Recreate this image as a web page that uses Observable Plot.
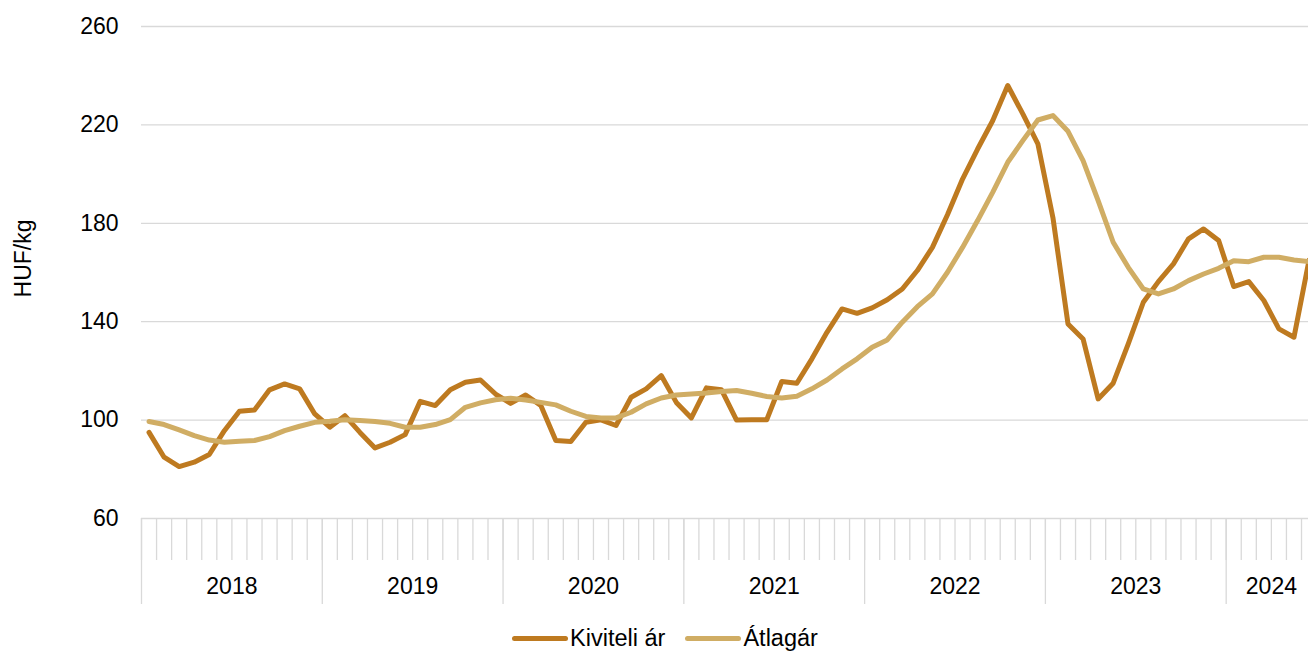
<!DOCTYPE html>
<html>
<head>
<meta charset="utf-8">
<script src="https://cdn.jsdelivr.net/npm/d3@7"></script>
<script src="https://cdn.jsdelivr.net/npm/@observablehq/plot@0.6"></script>
<style>
  html, body { margin: 0; padding: 0; background: #fff; }
  body { width: 1308px; height: 651px; overflow: hidden; font-family: "Liberation Sans", Arial, sans-serif; }
  #legend { display: flex; justify-content: center; align-items: center; height: 36px; padding-left: 22px; font-size: 23.5px; color: #000; }
  .item { display: flex; align-items: center; margin: 0 10px; }
  .sw { width: 56px; height: 5px; border-radius: 3px; margin-right: 2px; }
</style>
</head>
<body>
<div id="chart"></div>
<div id="legend"></div>
<script>
// ---- data ----
const years = ["2018", "2019", "2020", "2021", "2022", "2023", "2024"];
const monthsPerYear = [12, 12, 12, 12, 12, 12, 6];
const seriesNames = ["Kiviteli ár", "Átlagár"];
const seriesColors = ["#BE7A20", "#D0AD64"];
const yTicks = [60, 100, 140, 180, 220, 260];
const yLabel = "HUF/kg";

const kiviteli = [
  95.0, 84.9, 81.1, 82.9, 86.0, 95.7, 103.6, 104.1, 112.3, 114.7, 112.7, 102.5,
  97.1, 101.8, 95.0, 88.7, 91.0, 94.1, 107.6, 105.9, 112.3, 115.4, 116.3, 110.6,
  106.8, 110.2, 106.0, 91.7, 91.3, 99.1, 100.1, 97.8, 109.3, 112.7, 118.1, 107.2,
  100.9, 113.1, 112.3, 100.0, 100.1, 100.1, 115.7, 115.0, 124.9, 135.7, 145.2, 143.4,
  145.6, 148.9, 153.3, 160.8, 170.2, 183.5, 198.0, 210.2, 221.7, 236.0, 224.5, 212.3,
  182.3, 139.1, 133.0, 108.6, 115.0, 131.0, 147.9, 156.3, 163.5, 173.7, 177.7, 173.0,
  154.3, 156.3, 148.6, 137.1, 133.7, 165.0
];
const atlag = [
  99.4, 98.2, 96.0, 93.7, 91.9, 91.0, 91.4, 91.7, 93.3, 95.7, 97.5, 99.1,
  99.5, 100.1, 99.8, 99.4, 98.7, 97.1, 97.1, 98.2, 100.2, 105.2, 107.0, 108.3,
  108.9, 108.2, 107.2, 106.2, 103.6, 101.5, 100.9, 100.9, 103.2, 106.6, 109.0, 110.2,
  110.6, 111.0, 111.6, 112.0, 110.9, 109.6, 109.0, 109.7, 112.7, 116.3, 120.8, 124.9,
  129.6, 132.6, 139.8, 146.1, 151.3, 160.1, 170.2, 181.1, 192.6, 204.8, 213.6, 222.0,
  223.8, 217.4, 205.5, 189.2, 172.3, 162.1, 153.3, 151.3, 153.3, 156.7, 159.4, 161.7,
  164.8, 164.4, 166.2, 166.2, 165.1, 164.4
];

// ---- derived tables ----
const nMonths = d3.sum(monthsPerYear);
const rows = [];
kiviteli.forEach((v, i) => rows.push({i, v, s: seriesNames[0]}));
atlag.forEach((v, i) => rows.push({i, v, s: seriesNames[1]}));

const monthBounds = d3.range(nMonths + 1).map(i => i - 0.5);
let acc = 0;
const yearInfo = years.map((y, k) => {
  const start = acc; acc += monthsPerYear[k];
  return {year: y, start: start - 0.5, mid: start + monthsPerYear[k] / 2 - 0.5};
});
const yearBounds = yearInfo.map(d => d.start);

const W = 1308, H = 620, ML = 141, MT = 26, MB = 102;
const monthW = 15.065;

const chart = Plot.plot({
  width: W,
  height: H,
  marginLeft: ML,
  marginRight: 0,
  marginTop: MT,
  marginBottom: MB,
  style: {fontFamily: "'Liberation Sans', Arial, sans-serif", fontSize: "23px", color: "#000", background: "#fff"},
  x: {type: "linear", domain: [-0.5, nMonths - 0.5], range: [ML, ML + nMonths * monthW], axis: null},
  y: {domain: [60, 260], axis: null},
  color: {domain: seriesNames, range: seriesColors},
  marks: [
    Plot.ruleY(yTicks, {stroke: "#d9d9d9", strokeWidth: 1.3}),
    Plot.axisY({ticks: yTicks, tickSize: 0, tickPadding: 23, label: null, fontSize: 23, anchor: "left"}),
    Plot.text([yLabel], {frameAnchor: "left", textAnchor: "middle", dx: -118, dy: -14, rotate: -90, fontSize: 23}),
    Plot.axisX({ticks: monthBounds, tickSize: 42, stroke: "#d9d9d9", strokeWidth: 1.3, fill: "none", anchor: "bottom", label: null}),
    Plot.axisX({ticks: yearBounds, tickSize: 86, stroke: "#d9d9d9", strokeWidth: 1.3, fill: "none", anchor: "bottom", label: null}),
    Plot.text(yearInfo, {x: "mid", text: "year", frameAnchor: "bottom", dy: 75, fontSize: 23, fill: "#000"}),
    Plot.line(rows, {x: "i", y: "v", stroke: "s", z: "s", strokeWidth: 5, strokeLinejoin: "round", strokeLinecap: "round", clip: true})
  ]
});
document.getElementById("chart").appendChild(chart);

const legend = document.getElementById("legend");
seriesNames.forEach((n, k) => {
  const it = document.createElement("div");
  it.className = "item";
  const sw = document.createElement("div");
  sw.className = "sw";
  sw.style.background = seriesColors[k];
  const t = document.createElement("span");
  t.textContent = n;
  it.appendChild(sw); it.appendChild(t);
  legend.appendChild(it);
});
</script>
</body>
</html>
